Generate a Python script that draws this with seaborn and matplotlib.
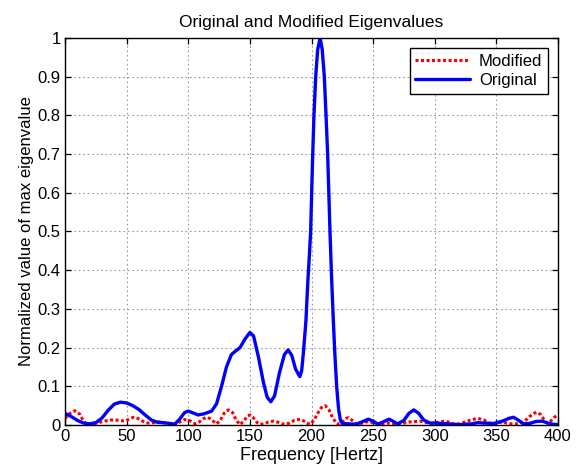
import matplotlib
matplotlib.use("Agg")
import matplotlib.pyplot as plt
import seaborn as sns
import pandas as pd
from matplotlib.ticker import FuncFormatter, MultipleLocator

# ---- data ----
orig_freq = [0, 5, 10, 15, 20, 25, 30, 35, 40, 45, 50, 55, 60, 65, 70, 75, 80, 85, 89, 93,
             97, 100, 104, 108, 113, 119, 123, 127, 131, 135, 138, 142, 146, 150, 153, 157,
             161, 164, 167, 170, 174, 178, 181, 184, 187, 190.5, 192, 193.4, 195.5, 197,
             198.3, 199.3, 200.3, 201, 202, 203.4, 205, 207, 208.7, 210.4, 211.8, 213.1,
             215, 216.3, 217.7, 219, 220.4, 222, 223.5, 225, 230, 236, 241, 246, 250, 254,
             258, 263, 267, 270, 275, 279, 283, 287, 291, 296, 300, 310, 320, 330, 335, 340,
             348, 355, 360, 364, 368, 372, 377, 382, 387, 392, 396, 400]
orig_vals = [0.030, 0.022, 0.012, 0.005, 0.003, 0.006, 0.018, 0.038, 0.054, 0.059, 0.057,
             0.050, 0.040, 0.026, 0.013, 0.007, 0.006, 0.004, 0.002, 0.015, 0.032, 0.036,
             0.031, 0.026, 0.029, 0.036, 0.055, 0.100, 0.150, 0.182, 0.190, 0.200, 0.222,
             0.239, 0.230, 0.175, 0.110, 0.072, 0.060, 0.075, 0.135, 0.182, 0.194, 0.180,
             0.145, 0.125, 0.140, 0.186, 0.270, 0.370, 0.440, 0.500, 0.620, 0.700, 0.800,
             0.900, 0.970, 1.000, 0.970, 0.900, 0.800, 0.700, 0.500, 0.380, 0.270, 0.180,
             0.100, 0.040, 0.012, 0.004, 0.003, 0.002, 0.008, 0.015, 0.010, 0.002, 0.008,
             0.015, 0.008, 0.003, 0.012, 0.030, 0.039, 0.030, 0.013, 0.005, 0.005, 0.003,
             0.001, 0.003, 0.006, 0.005, 0.004, 0.010, 0.017, 0.020, 0.012, 0.003, 0.004,
             0.009, 0.010, 0.005, 0.002, 0.001]

mod_freq = [0, 4, 8, 12, 15, 18, 22, 27, 32, 36.5, 40, 44, 48.5, 52, 55.5, 59, 63, 67, 70,
            74, 77, 81, 85, 88, 92, 97, 100, 103, 105.5, 109, 112, 115, 118, 121, 123, 126,
            129, 132.5, 136, 139, 142, 145, 148, 150, 153, 156, 158, 162, 165, 169, 173, 176,
            178.5, 182, 186, 190.7, 194, 197, 199, 202, 205, 208, 211, 214, 217, 220, 222,
            225, 228, 230, 233, 236, 238, 242, 246, 250, 254, 258, 262, 266, 270, 275, 280,
            285, 288, 292, 296, 300, 304, 308, 312, 316, 320, 325, 330, 335, 340, 344, 347,
            351, 355, 358, 362, 366, 369, 373, 377, 381, 383, 386, 389, 391, 394, 397, 400]
mod_vals = [0.017, 0.030, 0.037, 0.028, 0.010, 0.001, 0.002, 0.006, 0.010, 0.013, 0.013,
            0.012, 0.010, 0.015, 0.020, 0.017, 0.010, 0.005, 0.005, 0.007, 0.008, 0.005,
            0.001, 0.001, 0.006, 0.014, 0.013, 0.008, 0.003, 0.008, 0.016, 0.020, 0.016,
            0.008, 0.003, 0.012, 0.030, 0.039, 0.032, 0.012, 0.001, 0.010, 0.023, 0.026,
            0.018, 0.006, 0.002, 0.003, 0.008, 0.010, 0.007, 0.003, 0.002, 0.005, 0.012,
            0.015, 0.010, 0.004, 0.002, 0.012, 0.030, 0.045, 0.050, 0.040, 0.020, 0.005,
            0.002, 0.008, 0.017, 0.019, 0.012, 0.004, 0.002, 0.006, 0.009, 0.006, 0.003,
            0.004, 0.005, 0.004, 0.003, 0.005, 0.008, 0.009, 0.010, 0.007, 0.004, 0.005,
            0.008, 0.010, 0.007, 0.002, 0.003, 0.008, 0.014, 0.017, 0.013, 0.005, 0.002,
            0.006, 0.008, 0.005, 0.003, 0.003, 0.004, 0.010, 0.022, 0.031, 0.033, 0.027,
            0.012, 0.005, 0.010, 0.020, 0.026]

x_ticks = [0, 50, 100, 150, 200, 250, 300, 350, 400]
title = "Original and Modified Eigenvalues"
xlabel = "Frequency [Hertz]"
ylabel = "Normalized value of max eigenvalue"

# ---- style ----
sns.set_style("ticks")
plt.rcParams["font.family"] = ["Liberation Sans", "DejaVu Sans"]
plt.rcParams["font.size"] = 11
plt.rcParams["text.color"] = "black"
plt.rcParams["axes.labelcolor"] = "black"
plt.rcParams["axes.titlecolor"] = "black"

fig = plt.figure(figsize=(5.78, 4.72), dpi=100)
ax = fig.add_axes([65 / 578, 47 / 472, 493 / 578, 387 / 472])

df_mod = pd.DataFrame({"freq": mod_freq, "val": mod_vals})
df_orig = pd.DataFrame({"freq": orig_freq, "val": orig_vals})

sns.lineplot(data=df_mod, x="freq", y="val", ax=ax, color="#ff0000",
             linestyle=(0, (1, 0.8)), linewidth=2.2, label="Modified", sort=False)
sns.lineplot(data=df_orig, x="freq", y="val", ax=ax, color="#0000ff",
             linewidth=2.4, label="Original", sort=False)

ax.set_xlim(0, 400)
ax.set_ylim(0, 1)
ax.set_xticks(x_ticks)
ax.yaxis.set_major_locator(MultipleLocator(0.1))
ax.yaxis.set_major_formatter(FuncFormatter(lambda v, p: "%g" % round(v, 2)))

ax.grid(True, color="#9a9a9a", linestyle=(0, (1.5, 2.5)), linewidth=0.8)
ax.set_axisbelow(True)
ax.tick_params(direction="in", top=True, right=True, length=4, width=0.9,
               labelsize=12, colors="black", pad=3)
for s in ax.spines.values():
    s.set_visible(True)
    s.set_color("black")
    s.set_linewidth(1.0)

ax.set_title(title, fontsize=12.5, pad=8, color="black")
ax.set_xlabel(xlabel, fontsize=13, labelpad=2, color="black")
ax.set_ylabel(ylabel, fontsize=12, labelpad=3, color="black")

leg = ax.legend(loc="upper right", frameon=True, fancybox=False, fontsize=12,
                edgecolor="black", framealpha=1, handlelength=3.3,
                borderaxespad=0.6, borderpad=0.35, labelspacing=0.25, handletextpad=0.5)
leg.get_frame().set_linewidth(1.0)
for t in leg.get_texts():
    t.set_color("black")

fig.savefig("out.png", dpi=100)
